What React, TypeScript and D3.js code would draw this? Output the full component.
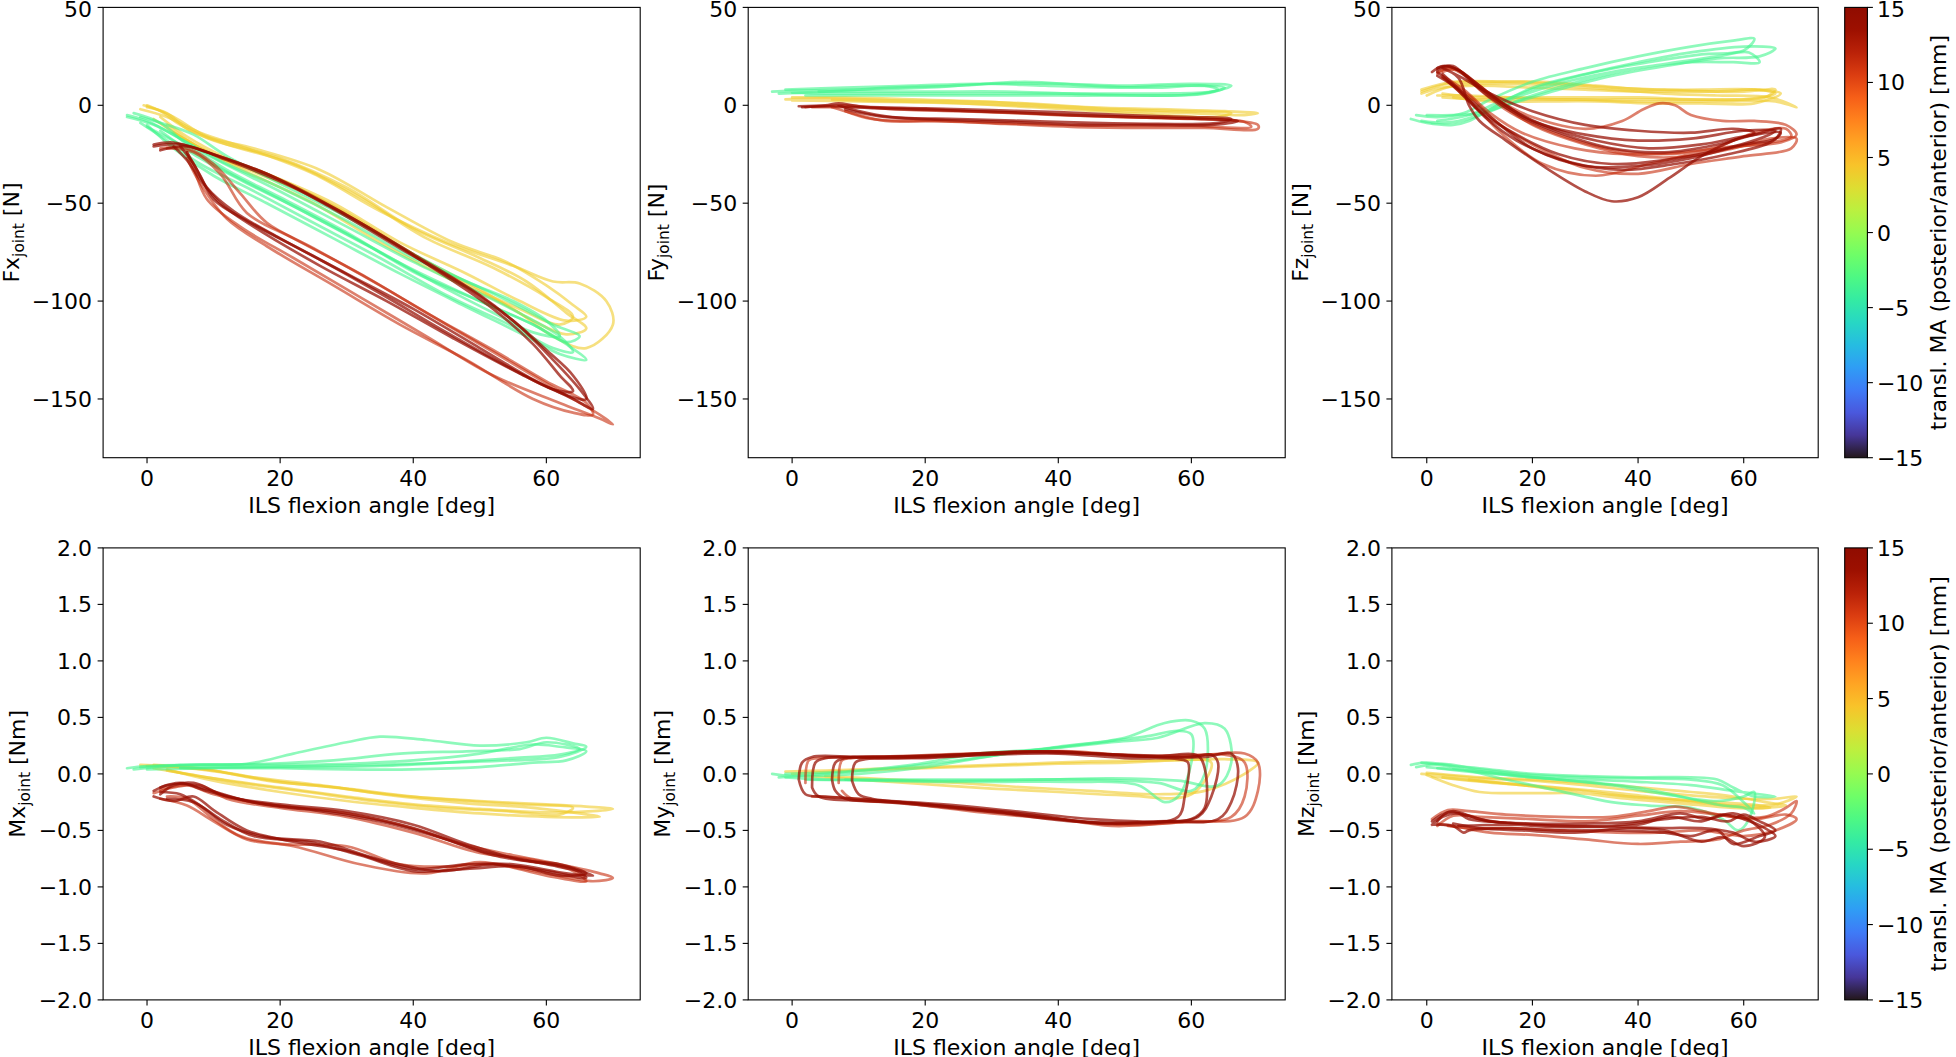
import React from "react";
import * as d3 from "d3";

type Pt = [number, number];

// ---------------- ticks & domains ----------------
const angleTicks = [0, 20, 40, 60];
const forceTicks = [50, 0, -50, -100, -150];
const momentTicks = [2, 1.5, 1, 0.5, 0, -0.5, -1, -1.5, -2];
const maTicks = [15, 10, 5, 0, -5, -10, -15];
const angleDomain: Pt = [-6.6, 74.1];
const forceDomain: Pt = [-180, 50];
const momentDomain: Pt = [-2, 2];
const maDomain: Pt = [-15, 15];

// condition MA values (mm): yellow, green, salmon red, dark red
const conditionMA = [4, -3.5, 11.4, 14];
const conditionOpacity = [0.6, 0.6, 0.6, 0.72];

const panelQuantity = ["Fx", "Fy", "Fz", "Mx", "My", "Mz"];
const panelUnit = ["N", "N", "N", "Nm", "Nm", "Nm"];

// ---------------- Fx ----------------
const fxGreen: Pt[][] = [
  [[-3,-5],[0,-8],[5,-17],[10,-27],[20,-44],[30,-62],[40,-80],[50,-96],[57,-108],[62,-118],[64,-126],[61,-124],[55,-113],[45,-97],[35,-78],[25,-60],[15,-42],[8,-30],[3,-18],[-1,-9]],
  [[-2,-4],[2,-9],[6,-20],[12,-33],[20,-47],[30,-65],[40,-85],[50,-100],[58,-112],[63,-122],[66,-130],[62,-127],[57,-118],[48,-103],[38,-86],[28,-68],[18,-50],[10,-36],[4,-22],[0,-10]],
  [[-1,-6],[3,-10],[7,-15],[12,-26],[20,-40],[30,-57],[40,-76],[48,-90],[55,-100],[60,-110],[62,-118],[58,-116],[52,-106],[44,-92],[34,-73],[24,-55],[14,-38],[7,-25],[2,-13]],
  [[-3,-6],[1,-10],[6,-19],[12,-30],[20,-42],[30,-59],[40,-78],[50,-93],[56,-103],[61,-112],[65,-118],[63,-121],[58,-112],[50,-100],[40,-84],[30,-66],[20,-48],[12,-34],[5,-20],[0,-11]],
];
const fxYellow: Pt[][] = [
  [[-0.5,0],[2,-3],[5,-10],[10,-18],[20,-27],[30,-42],[40,-63],[50,-78],[57,-90],[63,-106],[66,-114],[63,-117],[58,-110],[50,-94],[40,-76],[30,-55],[20,-38],[12,-27],[6,-16],[2,-6]],
  [[0,-1],[3,-4],[6,-12],[12,-20],[22,-30],[32,-47],[42,-68],[52,-83],[60,-98],[64,-108],[62,-112],[56,-104],[46,-88],[36,-68],[26,-48],[16,-34],[8,-22],[3,-10]],
  [[-1,-2],[3,-6],[8,-14],[15,-22],[25,-35],[35,-54],[45,-70],[55,-82],[61,-90],[65,-91],[69,-100],[70,-112],[66,-124],[61,-118],[55,-104],[45,-88],[35,-70],[25,-50],[15,-34],[6,-18],[1,-7]],
  [[0,0],[4,-6],[9,-16],[16,-22],[26,-33],[36,-52],[46,-70],[54,-80],[60,-92],[64,-102],[66,-108],[63,-110],[56,-100],[48,-86],[38,-70],[28,-50],[18,-35],[10,-25],[4,-14]],
];
const fxRedLight: Pt[][] = [
  [[2,-22],[6,-22],[10,-30],[14,-45],[18,-60],[25,-73],[35,-92],[45,-112],[55,-132],[63,-148],[68,-158],[70,-163],[68,-160],[62,-152],[52,-138],[42,-118],[32,-98],[22,-78],[14,-62],[9,-48],[7,-32],[6,-24]],
  [[3,-22],[7,-24],[11,-35],[15,-55],[22,-68],[32,-86],[42,-106],[52,-125],[60,-141],[66,-152],[67,-158],[64,-157],[58,-150],[48,-130],[38,-112],[28,-92],[18,-72],[12,-58],[8,-40],[6,-27]],
];
const fxRedDark: Pt[][] = [
  [[1,-21],[5,-20],[10,-25],[20,-38],[30,-56],[40,-76],[50,-97],[56,-113],[61,-130],[65,-145],[67,-155],[64,-150],[58,-140],[50,-124],[40,-104],[30,-86],[20,-68],[13,-54],[9,-42],[7,-30],[5,-21]],
  [[2,-23],[6,-21],[12,-28],[22,-42],[32,-60],[42,-81],[52,-104],[58,-122],[62,-138],[64,-146],[61,-145],[55,-135],[45,-116],[35,-96],[25,-77],[15,-59],[10,-48],[8,-36],[6,-24]],
  [[1,-20],[4,-19],[9,-24],[18,-35],[28,-53],[38,-73],[48,-93],[55,-110],[60,-125],[64,-138],[66,-150],[63,-148],[56,-137],[46,-119],[36,-100],[26,-82],[16,-62],[11,-50],[8,-38],[6,-28],[4,-21]],
];

// ---------------- Fy ----------------
const fyGreen: Pt[][] = [
  [[-3,7],[0,7.5],[10,8],[20,9],[30,11],[40,11],[50,10],[60,11],[66,10],[63,7],[55,6],[45,6],[35,6],[25,6],[15,6],[5,6],[0,6.5]],
  [[-2,6],[5,7],[15,9],[25,10],[35,12],[45,10],[55,9],[62,10],[64,8],[60,5.5],[50,5],[40,5],[30,5],[20,5],[10,5],[2,5]],
  [[-1,8],[8,9],[18,10],[28,11],[38,10],[48,9],[58,10],[65,9],[62,6],[52,5],[42,6],[32,7],[22,7],[12,7],[4,7]],
];
const fyYellow: Pt[][] = [
  [[-1,3],[5,3.5],[15,2.5],[25,2],[35,1],[45,-1],[55,-2],[65,-3],[70,-4],[68,-5],[60,-4],[50,-3],[40,-1],[30,0.5],[20,1.5],[10,2],[0,2.5]],
  [[0,4],[8,4],[18,3],[28,2],[38,0],[48,-2],[58,-3],[66,-4],[64,-6],[56,-5],[46,-3],[36,-1],[26,1],[16,2],[6,3]],
];
const fyRedLight: Pt[][] = [
  [[2,-1],[8,0],[15,-2],[25,-3],[35,-4],[45,-5.5],[55,-6.5],[65,-7.5],[70,-10],[70,-12],[62,-11.5],[52,-11.5],[42,-11],[32,-9.5],[22,-8],[14,-8],[9,-4],[6,-1]],
  [[3,-1],[10,-1],[20,-2],[30,-3.5],[40,-5],[50,-6],[60,-7],[68,-8.5],[69,-11],[60,-10.5],[50,-10.5],[40,-10],[30,-9],[20,-8],[12,-7],[8,-3]],
];
const fyRedDark: Pt[][] = [
  [[1,-0.5],[5,0],[7,1],[10,-0.5],[20,-1.5],[30,-2.5],[40,-3.5],[50,-5],[60,-6],[66,-7],[64,-9],[55,-9.5],[45,-9],[35,-8],[25,-7],[15,-6],[10,-3],[7,0]],
  [[1.5,-1],[6,-0.5],[12,-1.5],[22,-2.5],[32,-3.5],[42,-5],[52,-6],[62,-7],[67,-8],[63,-10],[53,-10],[43,-10],[33,-8.5],[23,-7.5],[13,-5.5],[8,-2]],
];

// ---------------- Fz ----------------
const fzGreen: Pt[][] = [
  [[-3,-7],[0,-9],[5,-10],[8,-8],[12,-2],[20,9],[30,16],[40,22],[50,27],[60,30],[66,29],[63,25],[55,24],[45,20],[35,15],[25,8],[15,0],[10,-4],[5,-5],[0,-5]],
  [[-2,-5],[2,-6],[7,-4],[12,3],[20,12],[30,19],[40,25],[50,30],[58,33],[62,34],[60,28],[52,26],[42,22],[32,17],[22,10],[14,2],[8,-5],[2,-8]],
  [[-1,-8],[4,-9],[9,-6],[15,2],[25,11],[35,17],[45,21],[55,25],[61,27],[63,22],[58,22],[50,22],[40,19],[30,13],[20,5],[12,-3],[6,-8],[1,-9]],
];
const fzYellow: Pt[][] = [
  [[-1,6],[3,9],[10,10],[20,9],[30,8],[40,7],[50,7],[60,7],[66,8],[64,4],[56,3],[46,3],[36,3],[26,3],[16,4],[8,5],[2,5]],
  [[0,5],[5,10],[15,11],[25,10],[35,8],[45,6],[55,5],[65,4],[70,-1],[66,2],[58,2],[48,2],[38,2],[28,3],[18,3],[10,3],[3,4]],
  [[-1,7],[4,11],[12,12],[22,12],[32,10],[42,8],[52,8],[62,8],[67,6],[62,1],[52,1],[42,1],[32,2],[22,2],[12,2],[5,4]],
  [[-1,8],[5,12],[15,12],[25,11],[35,9],[45,8],[55,7],[63,8],[66,6],[60,3],[50,3],[40,4],[30,4],[20,4],[10,4],[3,6]],
];
const fzRedLight: Pt[][] = [
  [[2,17],[5,19],[9,12],[14,2],[20,-6],[30,-12],[37,-8],[41,-2],[44,1],[47,0],[50,-5],[56,-8],[62,-8],[68,-10],[70,-15],[67,-19],[58,-21],[48,-24],[38,-25],[28,-22],[18,-14],[12,-4],[7,8],[3,15]],
  [[2,16],[4,19],[8,14],[13,3],[20,-10],[30,-20],[40,-26],[50,-26],[58,-22],[65,-17],[70,-17],[69,-22],[60,-26],[50,-30],[40,-35],[30,-32],[20,-20],[13,-8],[8,5],[3,14]],
  [[3,17],[6,18],[10,8],[16,-4],[24,-14],[34,-22],[44,-25],[54,-22],[62,-14],[68,-12],[69,-16],[62,-20],[52,-24],[42,-30],[32,-36],[22,-30],[14,-14],[9,0],[4,12]],
];
const fzRedDark: Pt[][] = [
  [[2,18],[4,20],[7,16],[10,9],[15,0],[20,-8],[30,-15],[40,-18],[50,-17],[60,-13],[66,-13],[63,-17],[55,-23],[45,-28],[35,-30],[25,-25],[15,-12],[10,-3],[5,10],[2,17]],
  [[1,17],[3,20],[6,18],[10,10],[16,-2],[22,-10],[32,-18],[42,-22],[52,-20],[60,-16],[67,-14],[65,-19],[57,-25],[47,-30],[37,-33],[27,-29],[17,-18],[11,-6],[6,8],[2,15]],
  [[3,19],[6,14],[8,0],[10,-8],[15,-18],[22,-31],[30,-44],[35,-49],[40,-47],[46,-37],[52,-26],[58,-18],[62,-14],[58,-12],[50,-14],[40,-13],[30,-10],[20,-3],[12,6],[6,15],[3,19]],
  [[2,19],[5,20],[8,13],[12,4],[18,-6],[25,-14],[35,-22],[45,-24],[55,-20],[62,-15],[67,-12],[66,-17],[60,-20],[50,-27],[40,-31],[30,-31],[20,-22],[13,-8],[7,6],[3,16]],
];

// ---------------- Mx ----------------
const mxGreen: Pt[][] = [
  [[-3,0.05],[0,0.07],[10,0.08],[20,0.08],[30,0.09],[40,0.12],[50,0.18],[58,0.26],[62,0.24],[66,0.2],[63,0.12],[58,0.1],[50,0.06],[40,0.04],[30,0.04],[20,0.05],[10,0.05],[0,0.04]],
  [[-2,0.04],[5,0.08],[15,0.09],[22,0.18],[30,0.28],[35,0.33],[42,0.3],[50,0.25],[57,0.28],[60,0.32],[64,0.27],[66,0.24],[62,0.15],[55,0.12],[45,0.1],[35,0.08],[25,0.07],[15,0.06],[5,0.05]],
  [[-1,0.06],[8,0.08],[18,0.09],[28,0.12],[38,0.18],[48,0.2],[56,0.22],[60,0.28],[65,0.22],[62,0.17],[55,0.14],[45,0.1],[35,0.07],[25,0.06],[15,0.06],[5,0.06]],
];
const mxYellow: Pt[][] = [
  [[-1,0.08],[5,0.06],[10,0.03],[20,-0.07],[30,-0.13],[40,-0.2],[50,-0.24],[60,-0.27],[66,-0.29],[70,-0.31],[67,-0.33],[60,-0.34],[50,-0.31],[40,-0.27],[30,-0.2],[20,-0.12],[10,-0.04],[3,0.03]],
  [[0,0.07],[8,0.04],[16,-0.03],[26,-0.1],[36,-0.18],[46,-0.23],[56,-0.27],[64,-0.3],[62,-0.36],[54,-0.33],[44,-0.3],[34,-0.24],[24,-0.16],[14,-0.08],[6,0],[1,0.05]],
  [[1,0.08],[8,0.05],[18,-0.06],[28,-0.12],[38,-0.2],[48,-0.26],[58,-0.3],[65,-0.35],[68,-0.38],[60,-0.38],[50,-0.35],[40,-0.3],[30,-0.24],[20,-0.16],[10,-0.06],[3,0.04]],
];
const mxRedLight: Pt[][] = [
  [[2,-0.14],[6,-0.1],[10,-0.18],[18,-0.27],[28,-0.33],[38,-0.45],[48,-0.63],[55,-0.72],[62,-0.8],[68,-0.88],[70,-0.92],[67,-0.95],[60,-0.88],[52,-0.8],[45,-0.82],[38,-0.8],[30,-0.64],[20,-0.62],[14,-0.55],[10,-0.4],[6,-0.22],[3,-0.2]],
  [[1,-0.17],[4,-0.12],[8,-0.1],[12,-0.22],[20,-0.3],[30,-0.38],[40,-0.52],[50,-0.7],[58,-0.76],[64,-0.86],[66,-0.95],[60,-0.9],[50,-0.78],[42,-0.88],[32,-0.8],[22,-0.64],[15,-0.58],[10,-0.42],[6,-0.28],[2,-0.22]],
];
const mxRedDark: Pt[][] = [
  [[1,-0.15],[3,-0.1],[6,-0.09],[8,-0.12],[15,-0.24],[20,-0.29],[30,-0.35],[40,-0.48],[50,-0.68],[55,-0.74],[60,-0.8],[65,-0.86],[67,-0.9],[63,-0.88],[55,-0.8],[48,-0.8],[40,-0.84],[30,-0.68],[22,-0.6],[15,-0.5],[10,-0.32],[7,-0.2],[4,-0.24],[1,-0.2]],
  [[2,-0.12],[5,-0.08],[9,-0.15],[16,-0.25],[25,-0.32],[35,-0.42],[45,-0.58],[52,-0.72],[58,-0.78],[64,-0.84],[66,-0.92],[60,-0.86],[52,-0.8],[44,-0.86],[35,-0.76],[26,-0.6],[18,-0.56],[12,-0.45],[8,-0.28],[5,-0.18],[2,-0.16]],
  [[2,-0.18],[4,-0.1],[7,-0.08],[12,-0.2],[20,-0.27],[30,-0.33],[40,-0.45],[48,-0.62],[56,-0.76],[62,-0.8],[66,-0.88],[62,-0.9],[56,-0.82],[48,-0.84],[40,-0.86],[32,-0.72],[24,-0.6],[16,-0.55],[11,-0.4],[7,-0.25],[3,-0.22]],
];

// ---------------- My ----------------
const myGreen: Pt[][] = [
  [[-3,0],[0,-0.02],[10,0],[20,0.06],[30,0.16],[40,0.24],[50,0.32],[56,0.45],[60,0.47],[62,0.4],[62,0],[60,-0.15],[55,-0.08],[45,-0.05],[35,-0.05],[25,-0.05],[15,-0.05],[5,-0.05],[-1,-0.03]],
  [[-2,-0.03],[5,0],[15,0.05],[25,0.12],[35,0.2],[45,0.27],[53,0.33],[58,0.38],[60,0.35],[60,0.1],[58,-0.2],[56,-0.25],[52,-0.1],[42,-0.07],[32,-0.07],[22,-0.07],[12,-0.06],[2,-0.05]],
  [[-1,0],[8,0.02],[18,0.08],[28,0.18],[38,0.22],[48,0.28],[55,0.32],[62,0.45],[65,0.4],[66,0.1],[64,-0.1],[58,-0.06],[48,-0.04],[38,-0.05],[28,-0.06],[18,-0.06],[8,-0.05]],
];
const myYellow: Pt[][] = [
  [[-1,0.02],[5,0.03],[15,0.05],[25,0.07],[35,0.09],[45,0.11],[55,0.12],[65,0.13],[70,0.1],[68,0],[62,-0.15],[55,-0.18],[45,-0.15],[35,-0.12],[25,-0.08],[15,-0.05],[5,-0.02]],
  [[0,0],[10,0.03],[20,0.05],[30,0.07],[40,0.09],[50,0.1],[58,0.12],[63,0.1],[60,-0.18],[50,-0.19],[40,-0.16],[30,-0.13],[20,-0.09],[10,-0.05],[2,-0.02]],
];
const myRedLight: Pt[][] = [
  [[2,-0.08],[2.5,0.12],[4,0.14],[12,0.15],[22,0.17],[32,0.19],[42,0.2],[52,0.16],[62,0.17],[68,0.18],[70,0.1],[70,-0.15],[68,-0.38],[60,-0.42],[50,-0.45],[40,-0.4],[30,-0.35],[20,-0.28],[10,-0.22],[3,-0.2]],
  [[7,-0.08],[7.5,0.12],[9,0.14],[18,0.15],[28,0.18],[38,0.2],[48,0.17],[58,0.15],[65,0.17],[68,0.1],[68,-0.2],[66,-0.38],[58,-0.43],[48,-0.46],[38,-0.38],[28,-0.32],[18,-0.26],[9,-0.22],[7.5,-0.15]],
];
const myRedDark: Pt[][] = [
  [[1,-0.05],[1.5,0.1],[3,0.15],[10,0.15],[20,0.16],[30,0.18],[40,0.2],[50,0.16],[60,0.15],[63,0.17],[64,0.1],[63,-0.2],[61,-0.38],[55,-0.42],[45,-0.4],[35,-0.34],[25,-0.28],[15,-0.24],[5,-0.2],[2,-0.18],[1,-0.05]],
  [[6,-0.05],[6.5,0.1],[8,0.14],[15,0.15],[25,0.17],[35,0.2],[45,0.18],[55,0.15],[62,0.15],[66,0.18],[67,0.05],[66,-0.25],[64,-0.4],[56,-0.42],[46,-0.44],[36,-0.36],[26,-0.3],[16,-0.25],[8,-0.22],[6.5,-0.15],[6,-0.05]],
  [[9,-0.06],[9.5,0.1],[11,0.13],[20,0.14],[30,0.17],[40,0.18],[50,0.14],[58,0.13],[59.5,0.1],[59,-0.2],[58,-0.38],[50,-0.44],[40,-0.4],[30,-0.33],[20,-0.27],[12,-0.22],[10,-0.18],[9,-0.06]],
  [[3,-0.12],[3.5,0.1],[5,0.14],[15,0.14],[25,0.16],[35,0.19],[45,0.18],[55,0.16],[61,0.16],[62,0.05],[62,-0.3],[60,-0.4],[52,-0.43],[42,-0.42],[32,-0.35],[22,-0.29],[12,-0.24],[4,-0.2],[3,-0.12]],
];

// ---------------- Mz ----------------
const mzGreen: Pt[][] = [
  [[-3,0.08],[0,0.1],[5,0.07],[10,0.05],[20,0],[30,-0.02],[40,-0.03],[50,-0.03],[55,-0.05],[58,-0.12],[62,-0.2],[66,-0.2],[63,-0.18],[58,-0.15],[50,-0.1],[40,-0.07],[30,-0.05],[20,-0.03],[10,0.02],[0,0.06]],
  [[-2,0.06],[3,0.09],[10,0.04],[20,-0.01],[30,-0.03],[40,-0.04],[50,-0.05],[56,-0.1],[60,-0.25],[62,-0.35],[60,-0.3],[56,-0.28],[48,-0.2],[40,-0.12],[30,-0.07],[20,-0.03],[10,0.01],[2,0.05]],
  [[-1,0.1],[5,0.06],[15,-0.05],[25,-0.15],[35,-0.25],[42,-0.28],[50,-0.3],[56,-0.4],[59,-0.5],[61,-0.4],[62,-0.16],[60,-0.2],[55,-0.24],[45,-0.18],[35,-0.1],[25,-0.05],[15,0],[5,0.05]],
];
const mzYellow: Pt[][] = [
  [[-1,0],[5,-0.02],[10,-0.04],[20,-0.06],[30,-0.1],[40,-0.15],[50,-0.19],[60,-0.22],[66,-0.22],[70,-0.2],[66,-0.27],[58,-0.28],[48,-0.24],[38,-0.2],[28,-0.14],[18,-0.1],[8,-0.06],[1,-0.02]],
  [[0,-0.01],[5,-0.1],[10,-0.16],[20,-0.17],[28,-0.17],[35,-0.19],[45,-0.22],[55,-0.25],[63,-0.28],[65,-0.3],[58,-0.3],[48,-0.26],[38,-0.22],[28,-0.16],[18,-0.1],[8,-0.05]],
  [[0,0.01],[10,-0.03],[20,-0.05],[30,-0.08],[40,-0.12],[50,-0.16],[58,-0.2],[64,-0.25],[68,-0.28],[62,-0.3],[52,-0.25],[42,-0.2],[32,-0.15],[22,-0.11],[12,-0.07],[3,-0.03]],
];
const mzRedLight: Pt[][] = [
  [[1,-0.4],[4,-0.32],[8,-0.33],[15,-0.36],[25,-0.38],[35,-0.38],[42,-0.33],[47,-0.29],[52,-0.33],[58,-0.38],[64,-0.38],[68,-0.3],[70,-0.24],[69,-0.35],[65,-0.45],[60,-0.5],[55,-0.58],[48,-0.6],[40,-0.62],[30,-0.58],[20,-0.54],[12,-0.52],[6,-0.47],[2,-0.44]],
  [[2,-0.46],[5,-0.37],[10,-0.38],[20,-0.4],[30,-0.42],[40,-0.37],[48,-0.33],[55,-0.36],[62,-0.4],[68,-0.36],[70,-0.4],[66,-0.5],[60,-0.55],[52,-0.5],[44,-0.52],[36,-0.52],[26,-0.5],[16,-0.48],[8,-0.48],[4,-0.46]],
];
const mzRedDark: Pt[][] = [
  [[1,-0.45],[3,-0.38],[6,-0.35],[8,-0.4],[15,-0.43],[25,-0.46],[35,-0.46],[45,-0.4],[52,-0.38],[57,-0.42],[60,-0.36],[63,-0.42],[66,-0.5],[63,-0.55],[58,-0.62],[55,-0.5],[50,-0.55],[45,-0.52],[35,-0.5],[25,-0.5],[15,-0.48],[8,-0.5],[7,-0.52],[5,-0.46],[1,-0.45]],
  [[2,-0.42],[4,-0.34],[7,-0.36],[12,-0.42],[20,-0.44],[30,-0.44],[40,-0.42],[48,-0.35],[53,-0.4],[58,-0.35],[62,-0.44],[64,-0.56],[60,-0.64],[56,-0.56],[52,-0.6],[45,-0.5],[38,-0.48],[28,-0.52],[18,-0.5],[10,-0.48],[5,-0.44]],
  [[1,-0.42],[3,-0.36],[5,-0.33],[10,-0.4],[20,-0.46],[30,-0.47],[40,-0.45],[46,-0.38],[52,-0.42],[56,-0.36],[60,-0.4],[64,-0.48],[66,-0.55],[62,-0.6],[58,-0.52],[52,-0.48],[45,-0.48],[35,-0.47],[25,-0.46],[15,-0.45],[6,-0.46]],
];

// groups per panel, in the order of conditionMA
const panelGroups: Pt[][][][] = [
  [fxYellow, fxGreen, fxRedLight, fxRedDark],
  [fyYellow, fyGreen, fyRedLight, fyRedDark],
  [fzYellow, fzGreen, fzRedLight, fzRedDark],
  [mxYellow, mxGreen, mxRedLight, mxRedDark],
  [myYellow, myGreen, myRedLight, myRedDark],
  [mzYellow, mzGreen, mzRedLight, mzRedDark],
];

// ---------------- layout ----------------
const W = 1956;
const H = 1057;
const colLeft = [103.1, 748.2, 1391.9];
const colRight = [640.2, 1285.2, 1818.2];
const rowTop = [7.4, 547.9];
const rowBottom = [457.7, 999.9];
const cbarX0 = 1844.7;
const cbarX1 = 1867.4;
const ylabelOffset = [84, 78];
const FS = 22;
const TICK = 5.5;
const FONT = "DejaVu Sans";

const minus = (s: string) => s.replace("-", "\u2212");
const fmtForce = (v: number) => minus(String(v));
const fmtMoment = (v: number) => minus(v.toFixed(1));
const turbo = (ma: number) => d3.interpolateTurbo((ma - maDomain[0]) / (maDomain[1] - maDomain[0]));
// keep the topmost tick label inside the page
const labelBase = (yy: number) => Math.max(yy + 8, 17);

function Panel({ idx }: { idx: number }) {
  const row = Math.floor(idx / 3);
  const col = idx % 3;
  const x0 = colLeft[col], x1 = colRight[col];
  const y0 = rowTop[row], y1 = rowBottom[row];
  const x = d3.scaleLinear().domain(angleDomain).range([x0, x1]);
  const y = d3.scaleLinear().domain(row === 0 ? forceDomain : momentDomain).range([y1, y0]);
  const yTicks = row === 0 ? forceTicks : momentTicks;
  const fmt = row === 0 ? fmtForce : fmtMoment;
  const line = d3.line<Pt>().x((d) => x(d[0])).y((d) => y(d[1])).curve(d3.curveCatmullRom.alpha(0.5));
  const clipId = `clip${idx}`;
  const cy = (y0 + y1) / 2;
  const groups = panelGroups[idx];
  return (
    <g>
      <defs>
        <clipPath id={clipId}>
          <rect x={x0} y={y0} width={x1 - x0} height={y1 - y0} />
        </clipPath>
      </defs>
      <g clipPath={`url(#${clipId})`}>
        {groups.map((trials, gi) =>
          trials.map((t, ti) => (
            <path key={`${gi}-${ti}`} d={line(t) || ""} fill="none" stroke={turbo(conditionMA[gi])}
              strokeOpacity={conditionOpacity[gi]} strokeWidth={2.7} strokeLinejoin="round" strokeLinecap="round" />
          ))
        )}
      </g>
      <rect x={x0} y={y0} width={x1 - x0} height={y1 - y0} fill="none" stroke="#000" strokeWidth={1.1} />
      {angleTicks.map((t) => (
        <g key={`xt${t}`}>
          <line x1={x(t)} x2={x(t)} y1={y1} y2={y1 + TICK} stroke="#000" strokeWidth={1.1} />
          <text x={x(t)} y={y1 + 28} textAnchor="middle" fontSize={FS} fontFamily={FONT}>{fmtForce(t)}</text>
        </g>
      ))}
      {yTicks.map((t) => (
        <g key={`yt${t}`}>
          <line x1={x0 - TICK} x2={x0} y1={y(t)} y2={y(t)} stroke="#000" strokeWidth={1.1} />
          <text x={x0 - 11} y={labelBase(y(t))} textAnchor="end" fontSize={FS} fontFamily={FONT}>{fmt(t)}</text>
        </g>
      ))}
      <text x={(x0 + x1) / 2} y={y1 + 55} textAnchor="middle" fontSize={FS} fontFamily={FONT}>ILS flexion angle [deg]</text>
      <text transform={`translate(${x0 - ylabelOffset[row]},${cy}) rotate(-90)`} textAnchor="middle" fontSize={FS} fontFamily={FONT}>
        <tspan>{panelQuantity[idx]}</tspan>
        <tspan fontSize={FS * 0.7} dy={5}>joint</tspan>
        <tspan dy={-5}>{` [${panelUnit[idx]}]`}</tspan>
      </text>
    </g>
  );
}

function Colorbar({ row }: { row: number }) {
  const y0 = rowTop[row], y1 = rowBottom[row];
  const s = d3.scaleLinear().domain(maDomain).range([y1, y0]);
  const gid = `cbgrad${row}`;
  const stops = d3.range(0, 1.0001, 0.05);
  return (
    <g>
      <defs>
        <linearGradient id={gid} x1="0" y1="1" x2="0" y2="0">
          {stops.map((t) => (
            <stop key={t} offset={t} stopColor={d3.interpolateTurbo(t)} />
          ))}
        </linearGradient>
      </defs>
      <rect x={cbarX0} y={y0} width={cbarX1 - cbarX0} height={y1 - y0} fill={`url(#${gid})`} stroke="#000" strokeWidth={1.1} />
      {maTicks.map((t) => (
        <g key={t}>
          <line x1={cbarX1} x2={cbarX1 + TICK} y1={s(t)} y2={s(t)} stroke="#000" strokeWidth={1.1} />
          <text x={cbarX1 + 9.5} y={labelBase(s(t))} fontSize={FS} fontFamily={FONT}>{fmtForce(t)}</text>
        </g>
      ))}
      <text transform={`translate(1946,${(y0 + y1) / 2}) rotate(-90)`} textAnchor="middle" fontSize={FS} fontFamily={FONT}>
        transl. MA (posterior/anterior) [mm]
      </text>
    </g>
  );
}

export default function App() {
  return (
    <svg width={W} height={H} viewBox={`0 0 ${W} ${H}`} style={{ position: "absolute", left: 0, top: 0, background: "#fff" }}>
      <rect x={0} y={0} width={W} height={H} fill="#fff" />
      {d3.range(6).map((i) => (
        <Panel key={i} idx={i} />
      ))}
      <Colorbar row={0} />
      <Colorbar row={1} />
    </svg>
  );
}
